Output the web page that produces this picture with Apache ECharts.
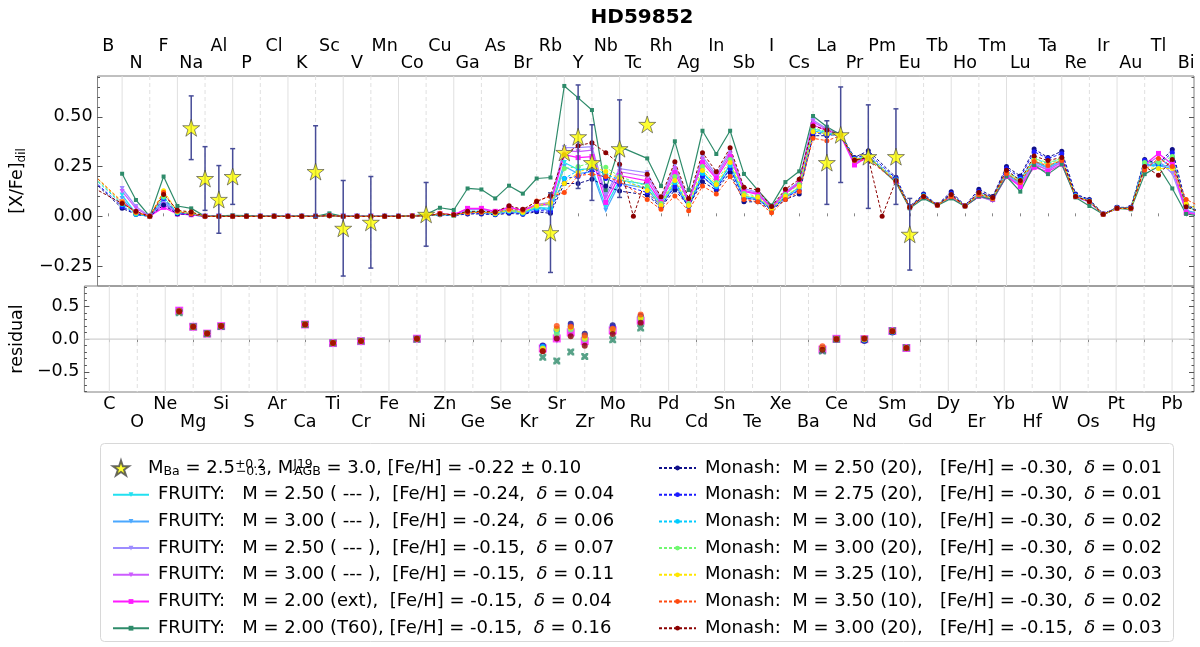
<!DOCTYPE html>
<html>
<head>
<meta charset="utf-8">
<title>HD59852</title>
<script src="https://cdn.jsdelivr.net/npm/echarts@6/dist/echarts.min.js"></script>
<style>
html, body { margin: 0; padding: 0; background: #fff; }
#chart { width: 1200px; height: 647px; }
</style>
</head>
<body>
<div id="chart"></div>
<script>
// element symbols, index = Z - 1
var SYMBOLS = ['H','He','Li','Be','B','C','N','O','F','Ne','Na','Mg','Al','Si','P','S','Cl','Ar','K','Ca',
  'Sc','Ti','V','Cr','Mn','Fe','Co','Ni','Cu','Zn','Ga','Ge','As','Se','Br','Kr','Rb','Sr','Y','Zr',
  'Nb','Mo','Tc','Ru','Rh','Pd','Ag','Cd','In','Sn','Sb','Te','I','Xe','Cs','Ba','La','Ce','Pr','Nd',
  'Pm','Sm','Eu','Gd','Tb','Dy','Ho','Er','Tm','Yb','Lu','Hf','Ta','W','Re','Os','Ir','Pt','Au','Hg',
  'Tl','Pb','Bi','Po'];

// tick label rows (Z)
var topRowA = [5, 9, 13, 17, 21, 25, 29, 33, 37, 41, 45, 49, 53, 57, 61, 65, 69, 73, 77, 81];
var topRowB = [7, 11, 15, 19, 23, 27, 31, 35, 39, 43, 47, 51, 55, 59, 63, 67, 71, 75, 79, 83];
var botRowA = [6, 10, 14, 18, 22, 26, 30, 34, 38, 42, 46, 50, 54, 58, 62, 66, 70, 74, 78, 82];
var botRowB = [8, 12, 16, 20, 24, 28, 32, 36, 40, 44, 48, 52, 56, 60, 64, 68, 72, 76, 80];

// model abundances, Z = 4 .. 84
var modelZ = [4, 5, 6, 7, 8, 9, 10, 11, 12, 13,
  14, 15, 16, 17, 18, 19, 20, 21, 22, 23,
  24, 25, 26, 27, 28, 29, 30, 31, 32, 33,
  34, 35, 36, 37, 38, 39, 40, 41, 42, 43,
  44, 45, 46, 47, 48, 49, 50, 51, 52, 53,
  54, 55, 56, 57, 58, 59, 60, 61, 62, 63,
  64, 65, 66, 67, 68, 69, 70, 71, 72, 73,
  74, 75, 76, 77, 78, 79, 80, 81, 82, 83, 84];

var fruity250m24 = [null, null, 0.107, 0.015, 0, 0.08, 0.015, 0.008, 0, 0,
  0, 0, 0, 0, 0, 0, 0, 0.004, 0, 0,
  0, 0, 0, 0.002, 0.003, 0.01, 0.006, 0.025, 0.025, 0.015,
  0.035, 0.02, 0.045, 0.04, 0.27, 0.235, 0.24, 0.05, 0.183, null,
  0.16, 0.06, 0.18, 0.05, 0.22, 0.15, 0.26, 0.1, 0.09, 0.04,
  0.1, 0.145, 0.44, 0.42, 0.41, 0.275, 0.3, null, 0.175, 0.045,
  0.1, 0.057, 0.1, 0.052, 0.105, 0.085, 0.215, 0.17, 0.28, 0.245,
  0.285, 0.1, 0.075, 0.01, 0.04, 0.04, 0.26, 0.26, 0.25, 0.03, 0.01];

var fruity300m24 = [null, null, 0.09, 0.01, 0, 0.07, 0.012, 0.007, 0, 0,
  0, 0, 0, 0, 0, 0, 0, 0.004, 0, 0,
  0, 0, 0, 0.002, 0.003, 0.01, 0.006, 0.02, 0.02, 0.012,
  0.03, 0.015, 0.04, 0.03, 0.25, 0.215, 0.225, 0.03, 0.166, null,
  0.14, 0.05, 0.16, 0.045, 0.2, 0.14, 0.24, 0.09, 0.085, 0.038,
  0.095, 0.135, 0.43, 0.415, 0.405, 0.27, 0.3, null, 0.175, 0.045,
  0.1, 0.057, 0.1, 0.052, 0.102, 0.085, 0.21, 0.165, 0.275, 0.24,
  0.28, 0.1, 0.075, 0.01, 0.04, 0.04, 0.255, 0.255, 0.24, 0.03, 0.01];

var fruity250m15 = [null, null, 0.14, 0.05, 0, 0.075, 0.02, 0.012, 0, 0,
  0, 0, 0, 0, 0, 0, 0, 0.005, 0, 0,
  0, 0, 0, 0.002, 0.003, 0.012, 0.008, 0.035, 0.035, 0.022,
  0.045, 0.03, 0.06, 0.07, 0.345, 0.345, 0.35, 0.11, 0.24, null,
  0.219, 0.09, 0.258, 0.08, 0.3, 0.21, 0.33, 0.14, 0.12, 0.045,
  0.125, 0.175, 0.484, 0.44, 0.415, 0.27, 0.3, null, 0.175, 0.045,
  0.1, 0.057, 0.098, 0.052, 0.1, 0.078, 0.205, 0.16, 0.268, 0.23,
  0.275, 0.098, 0.072, 0.01, 0.04, 0.04, 0.25, 0.28, 0.215, 0.025, 0.008];

var fruity300m15 = [null, null, 0.125, 0.04, 0, 0.06, 0.018, 0.01, 0, 0,
  0, 0, 0, 0, 0, 0, 0, 0.005, 0, 0,
  0, 0, 0, 0.002, 0.003, 0.012, 0.008, 0.038, 0.037, 0.023,
  0.045, 0.03, 0.055, 0.065, 0.33, 0.325, 0.333, 0.095, 0.224, null,
  0.2, 0.08, 0.24, 0.075, 0.285, 0.2, 0.315, 0.13, 0.115, 0.045,
  0.12, 0.17, 0.475, 0.435, 0.41, 0.265, 0.3, null, 0.175, 0.045,
  0.1, 0.057, 0.098, 0.052, 0.1, 0.08, 0.2, 0.155, 0.258, 0.235,
  0.27, 0.098, 0.072, 0.01, 0.04, 0.04, 0.255, 0.3, 0.24, 0.025, 0.008];

var fruity200ext = [null, null, 0.075, 0.02, 0, 0.045, 0.012, 0.008, 0, 0,
  0, 0, 0, 0, 0, 0, 0, 0.004, 0, 0,
  0, 0, 0, 0.002, 0.003, 0.012, 0.008, 0.04, 0.04, 0.025,
  0.045, 0.03, 0.055, 0.06, 0.31, 0.295, 0.3, 0.07, 0.205, null,
  0.178, 0.07, 0.22, 0.07, 0.27, 0.19, 0.3, 0.125, 0.11, 0.042,
  0.115, 0.165, 0.46, 0.43, 0.405, 0.258, 0.3, null, 0.175, 0.045,
  0.1, 0.057, 0.1, 0.052, 0.1, 0.085, 0.2, 0.15, 0.246, 0.225,
  0.262, 0.1, 0.075, 0.01, 0.04, 0.04, 0.26, 0.316, 0.262, 0.018, 0.005];

var fruity200t60 = [null, null, 0.214, 0.082, 0, 0.2, 0.052, 0.04, 0, 0.002,
  0.005, 0.004, 0, 0.003, 0, 0.002, 0, 0.015, 0, 0,
  0, 0, 0, 0.002, 0.01, 0.043, 0.032, 0.14, 0.135, 0.09,
  0.154, 0.114, 0.19, 0.195, 0.655, 0.595, 0.534, 0.132, 0.35, null,
  0.291, 0.152, 0.377, 0.132, 0.43, 0.313, 0.43, 0.213, 0.132, 0.055,
  0.172, 0.226, 0.504, 0.45, 0.41, 0.28, 0.3, null, 0.17, 0.04,
  0.09, 0.055, 0.09, 0.05, 0.1, 0.085, 0.2, 0.124, 0.258, 0.212,
  0.261, 0.095, 0.052, 0.01, 0.04, 0.035, 0.212, 0.25, 0.14, 0.012, 0.0];

var monash250 = [0.17, null, 0.04, 0.01, 0, 0.057, 0.012, 0.01, 0, 0,
  0, 0, 0, 0, 0, 0, 0, 0.003, 0, 0,
  0, 0, 0, 0.002, 0.002, 0.008, 0.004, 0.012, 0.012, 0.008,
  0.015, 0.01, 0.023, 0.015, 0.165, 0.165, 0.186, 0.152, 0.127, null,
  0.107, 0.045, 0.132, 0.052, 0.174, 0.132, 0.22, 0.073, 0.073, 0.032,
  0.085, 0.112, 0.405, 0.405, 0.415, 0.295, 0.33, null, 0.196, 0.05,
  0.112, 0.058, 0.124, 0.054, 0.136, 0.1, 0.25, 0.203, 0.338, 0.296,
  0.327, 0.112, 0.085, 0.012, 0.045, 0.045, 0.286, 0.265, 0.336, 0.06, 0.02];

var monash275 = [0.175, null, 0.05, 0.01, 0, 0.09, 0.015, 0.012, 0, 0,
  0, 0, 0, 0, 0, 0, 0, 0.003, 0, 0,
  0, 0, 0, 0.002, 0.002, 0.01, 0.005, 0.015, 0.015, 0.01,
  0.02, 0.012, 0.03, 0.025, 0.19, 0.2, 0.233, 0.19, 0.16, null,
  0.12, 0.05, 0.15, 0.05, 0.2, 0.14, 0.24, 0.09, 0.085, 0.035,
  0.095, 0.13, 0.42, 0.41, 0.41, 0.29, 0.315, null, 0.19, 0.047,
  0.108, 0.057, 0.115, 0.053, 0.125, 0.095, 0.24, 0.195, 0.325, 0.29,
  0.315, 0.108, 0.08, 0.011, 0.043, 0.043, 0.28, 0.26, 0.32, 0.055, 0.02];

var monash300a = [0.19, null, 0.06, 0.01, 0, 0.095, 0.018, 0.015, 0, 0,
  0, 0, 0, 0, 0, 0, 0, 0.003, 0, 0,
  0, 0, 0, 0.002, 0.002, 0.01, 0.005, 0.018, 0.02, 0.012,
  0.025, 0.015, 0.04, 0.04, 0.19, 0.23, 0.245, 0.21, 0.185, null,
  0.14, 0.055, 0.17, 0.055, 0.215, 0.15, 0.255, 0.1, 0.09, 0.037,
  0.1, 0.145, 0.43, 0.415, 0.41, 0.288, 0.305, null, 0.185, 0.045,
  0.104, 0.057, 0.108, 0.052, 0.115, 0.092, 0.225, 0.185, 0.29, 0.265,
  0.29, 0.104, 0.077, 0.01, 0.042, 0.042, 0.265, 0.245, 0.29, 0.05, 0.02];

var monash300b = [0.195, null, 0.065, 0.015, 0, 0.1, 0.02, 0.015, 0, 0,
  0, 0, 0, 0, 0, 0, 0, 0.003, 0, 0,
  0, 0, 0, 0.002, 0.002, 0.01, 0.006, 0.02, 0.022, 0.015,
  0.03, 0.02, 0.05, 0.06, 0.24, 0.25, 0.27, 0.246, 0.2, null,
  0.15, 0.065, 0.2, 0.065, 0.25, 0.17, 0.285, 0.115, 0.1, 0.04,
  0.11, 0.16, 0.445, 0.425, 0.41, 0.285, 0.3, null, 0.18, 0.045,
  0.102, 0.057, 0.105, 0.052, 0.115, 0.092, 0.222, 0.18, 0.29, 0.27,
  0.29, 0.102, 0.076, 0.01, 0.041, 0.041, 0.27, 0.27, 0.3, 0.05, 0.02];

var monash325 = [0.205, null, 0.075, 0.02, 0, 0.128, 0.025, 0.02, 0, 0,
  0, 0, 0, 0, 0, 0, 0, 0.003, 0, 0,
  0, 0, 0, 0.002, 0.002, 0.012, 0.007, 0.02, 0.022, 0.015,
  0.03, 0.02, 0.055, 0.07, 0.165, 0.22, 0.25, 0.225, 0.19, null,
  0.13, 0.055, 0.18, 0.055, 0.23, 0.16, 0.27, 0.105, 0.095, 0.038,
  0.1, 0.15, 0.425, 0.415, 0.41, 0.285, 0.3, null, 0.18, 0.045,
  0.1, 0.057, 0.102, 0.052, 0.11, 0.09, 0.22, 0.175, 0.282, 0.26,
  0.285, 0.1, 0.075, 0.01, 0.04, 0.04, 0.245, 0.24, 0.24, 0.065, 0.03];

var monash350 = [0.205, null, 0.07, 0.02, 0, 0.12, 0.025, 0.012, 0, 0,
  0, 0, 0, 0, 0, 0, 0, 0.003, 0, 0,
  0, 0, 0, 0.002, 0.002, 0.015, 0.008, 0.018, 0.02, 0.02,
  0.035, 0.03, 0.077, 0.1, 0.12, 0.205, 0.212, 0.2, 0.175, null,
  0.085, 0.035, 0.102, 0.028, 0.152, 0.112, 0.2, 0.085, 0.073, 0.018,
  0.085, 0.125, 0.392, 0.38, 0.405, 0.28, 0.285, null, 0.175, 0.045,
  0.1, 0.056, 0.1, 0.052, 0.11, 0.09, 0.215, 0.17, 0.275, 0.255,
  0.28, 0.1, 0.075, 0.01, 0.04, 0.04, 0.233, 0.291, 0.25, 0.085, 0.05];

var monash300m15 = [0.14, null, 0.065, 0.025, 0, 0.11, 0.03, 0.022, 0, 0,
  0, 0, 0, 0, 0, 0, 0, 0.004, 0, 0,
  0, 0, 0, 0.002, 0.003, 0.012, 0.008, 0.025, 0.025, 0.022,
  0.053, 0.035, 0.074, 0.105, 0.31, 0.355, 0.37, 0.32, 0.262, 0.0,
  0.212, 0.099, 0.274, 0.09, 0.32, 0.224, 0.345, 0.146, 0.132, 0.049,
  0.136, 0.186, 0.454, 0.434, 0.41, 0.283, 0.295, 0.0, 0.18, 0.045,
  0.1, 0.057, 0.11, 0.052, 0.12, 0.095, 0.232, 0.18, 0.303, 0.28,
  0.296, 0.1, 0.075, 0.01, 0.041, 0.041, 0.25, 0.207, 0.286, 0.048, 0.02];

// observed abundances of HD59852
var obsZ   = [11, 12, 13, 14, 20, 22, 24, 28, 37, 38, 39, 40, 42, 44, 57, 58, 60, 62, 63];
var obsVal = [0.445, 0.19, 0.085, 0.2, 0.225, -0.06, -0.03, 0.01, -0.082, 0.321, 0.40, 0.27, 0.34, 0.462, 0.27, 0.41, 0.30, 0.30, -0.09];
var obsErr = [0.16, 0.16, 0.17, 0.14, 0.23, 0.24, 0.23, 0.16, 0.2, null, 0.26, 0.19, 0.245, null, 0.21, 0.24, 0.26, 0.24, 0.18];

var FONT = 'DejaVu Sans';
var XMIN = 4.22, XMAX = 83.57;
var OBS_NAME = 'obs';

var models = [
  {name: 'FRUITY:   M = 2.50 ( --- ),  [Fe/H] = -0.24,  δ = 0.04', vals: fruity250m24, color: '#22e0f0', symbol: 'triangle', rot: 180, size: 5, dash: false},
  {name: 'FRUITY:   M = 3.00 ( --- ),  [Fe/H] = -0.24,  δ = 0.06', vals: fruity300m24, color: '#4aa8ff', symbol: 'triangle', rot: 180, size: 5, dash: false},
  {name: 'FRUITY:   M = 2.50 ( --- ),  [Fe/H] = -0.15,  δ = 0.07', vals: fruity250m15, color: '#9d8cff', symbol: 'triangle', rot: 180, size: 5, dash: false},
  {name: 'FRUITY:   M = 3.00 ( --- ),  [Fe/H] = -0.15,  δ = 0.11', vals: fruity300m15, color: '#cc5cff', symbol: 'triangle', rot: 180, size: 5, dash: false},
  {name: 'FRUITY:   M = 2.00 (ext),  [Fe/H] = -0.15,  δ = 0.04', vals: fruity200ext, color: '#ff1aff', symbol: 'rect', rot: 0, size: 5, dash: false},
  {name: 'FRUITY:   M = 2.00 (T60), [Fe/H] = -0.15,  δ = 0.16', vals: fruity200t60, color: '#2e8b6a', symbol: 'rect', rot: 0, size: 4, dash: false},
  {name: 'Monash:  M = 2.50 (20),   [Fe/H] = -0.30,  δ = 0.01', vals: monash250, color: '#10108a', symbol: 'circle', rot: 0, size: 5, dash: true},
  {name: 'Monash:  M = 2.75 (20),   [Fe/H] = -0.30,  δ = 0.01', vals: monash275, color: '#1a1aff', symbol: 'circle', rot: 0, size: 5, dash: true},
  {name: 'Monash:  M = 3.00 (10),   [Fe/H] = -0.30,  δ = 0.02', vals: monash300a, color: '#00ccff', symbol: 'circle', rot: 0, size: 5, dash: true},
  {name: 'Monash:  M = 3.00 (20),   [Fe/H] = -0.30,  δ = 0.02', vals: monash300b, color: '#70f870', symbol: 'circle', rot: 0, size: 5, dash: true},
  {name: 'Monash:  M = 3.25 (10),   [Fe/H] = -0.30,  δ = 0.03', vals: monash325, color: '#ffe600', symbol: 'circle', rot: 0, size: 5, dash: true},
  {name: 'Monash:  M = 3.50 (10),   [Fe/H] = -0.30,  δ = 0.02', vals: monash350, color: '#ff4a10', symbol: 'circle', rot: 0, size: 5, dash: true},
  {name: 'Monash:  M = 3.00 (20),   [Fe/H] = -0.15,  δ = 0.03', vals: monash300m15, color: '#8b0000', symbol: 'circle', rot: 0, size: 5, dash: true}
];

var STAR = 'path://M50,0 L61.8,35.1 L98.9,35.1 L69.1,56.8 L80.9,91.9 L50,70.2 L19.1,91.9 L30.9,56.8 L1.1,35.1 L38.2,35.1 Z';
var CROSS = 'path://M0,0 L3,0 L5,2 L7,0 L10,0 L10,3 L8,5 L10,7 L10,10 L7,10 L5,8 L3,10 L0,10 L0,7 L2,5 L0,3 Z';

function pairs(vals) {
  var out = [];
  for (var i = 0; i < modelZ.length; i++) {
    if (vals[i] != null) out.push([modelZ[i], vals[i]]);
  }
  return out;
}

function residuals(vals) {
  var out = [];
  for (var k = 0; k < obsZ.length; k++) {
    var v = vals[modelZ.indexOf(obsZ[k])];
    if (v != null) out.push([obsZ[k], obsVal[k] - v]);
  }
  return out;
}

function minus(s) { return String(s).replace('-', '\u2212'); }

function ticksBetween(lo, hi, step) {
  var out = [];
  for (var v = Math.ceil(lo / step) * step; v <= hi + 1e-9; v += step) out.push(+v.toFixed(4));
  return out;
}

var chart = echarts.init(document.getElementById('chart'));

var labelStyle = {fontFamily: FONT, fontSize: 17.5, color: '#000'};
function symFmt(v) { return SYMBOLS[Math.round(v) - 1]; }

var xAxes = [
  {gridIndex: 0, type: 'value', position: 'top', min: XMIN, max: XMAX,
    axisLine: {show: false}, splitLine: {show: false},
    axisTick: {show: true, inside: false, length: 3, customValues: topRowA.concat(topRowB), lineStyle: {color: '#888'}},
    axisLabel: Object.assign({customValues: topRowA, margin: 21, formatter: symFmt}, labelStyle)},
  {gridIndex: 0, type: 'value', position: 'top', min: XMIN, max: XMAX,
    axisLine: {show: false}, splitLine: {show: false}, axisTick: {show: false},
    axisLabel: Object.assign({customValues: topRowB, margin: 4, formatter: symFmt}, labelStyle)},
  {gridIndex: 1, type: 'value', position: 'bottom', min: XMIN, max: XMAX,
    axisLine: {show: false}, splitLine: {show: false},
    axisTick: {show: true, inside: false, length: 3, customValues: botRowA.concat(botRowB), lineStyle: {color: '#888'}},
    axisLabel: Object.assign({customValues: botRowA, margin: 3, formatter: symFmt}, labelStyle)},
  {gridIndex: 1, type: 'value', position: 'bottom', min: XMIN, max: XMAX,
    axisLine: {show: false}, splitLine: {show: false}, axisTick: {show: false},
    axisLabel: Object.assign({customValues: botRowB, margin: 21, formatter: symFmt}, labelStyle)}
];

var TOP_MIN = -0.35, TOP_MAX = 0.705, RES_MIN = -0.81, RES_MAX = 0.815;
var topTicks = [-0.25, 0, 0.25, 0.5];
var resTicks = [-0.5, 0, 0.5];

function yBase(grid, pos, min, max) {
  return {gridIndex: grid, type: 'value', position: pos, min: min, max: max,
    axisLine: {show: false}, splitLine: {show: false}, axisLabel: {show: false}};
}

var y0 = yBase(0, 'left', TOP_MIN, TOP_MAX);
y0.axisTick = {inside: true, length: 5, customValues: topTicks, lineStyle: {color: '#555'}};
y0.axisLabel = Object.assign({show: true, customValues: topTicks, margin: 5,
  formatter: function (v) { return minus(v.toFixed(2)); }}, labelStyle);
y0.name = '{a|[X/Fe]}{b|dil}';
y0.nameLocation = 'middle';
y0.nameRotate = 90;
y0.nameGap = 52;
y0.nameTextStyle = {rich: {a: {fontFamily: FONT, fontSize: 17.5, color: '#000', lineHeight: 22},
  b: {fontFamily: FONT, fontSize: 12, color: '#000', verticalAlign: 'bottom', lineHeight: 12}}};

var y1 = yBase(0, 'left', TOP_MIN, TOP_MAX);
y1.axisTick = {inside: true, length: 2.5, customValues: ticksBetween(TOP_MIN, TOP_MAX, 0.05), lineStyle: {color: '#555'}};
var y2 = yBase(0, 'right', TOP_MIN, TOP_MAX);
y2.axisTick = {inside: true, length: 5, customValues: topTicks, lineStyle: {color: '#555'}};
var y3 = yBase(0, 'right', TOP_MIN, TOP_MAX);
y3.axisTick = {inside: true, length: 2.5, customValues: ticksBetween(TOP_MIN, TOP_MAX, 0.05), lineStyle: {color: '#555'}};

var y4 = yBase(1, 'left', RES_MIN, RES_MAX);
y4.axisTick = {inside: true, length: 5, customValues: resTicks, lineStyle: {color: '#555'}};
y4.axisLabel = Object.assign({show: true, customValues: resTicks, margin: 5,
  formatter: function (v) { return minus(v.toFixed(1)); }}, labelStyle);
y4.name = 'residual';
y4.nameLocation = 'middle';
y4.nameRotate = 90;
y4.nameGap = 52;
y4.nameTextStyle = {fontFamily: FONT, fontSize: 17.5, color: '#000'};
var y5 = yBase(1, 'right', RES_MIN, RES_MAX);
y5.axisTick = {inside: true, length: 5, customValues: resTicks, lineStyle: {color: '#555'}};
var y6 = yBase(1, 'left', RES_MIN, RES_MAX);
y6.axisTick = {inside: true, length: 2.5, customValues: ticksBetween(RES_MIN, RES_MAX, 0.1), lineStyle: {color: '#555'}};
var y7 = yBase(1, 'right', RES_MIN, RES_MAX);
y7.axisTick = {inside: true, length: 2.5, customValues: ticksBetween(RES_MIN, RES_MAX, 0.1), lineStyle: {color: '#555'}};

function vLines(grid, zs, dashed) {
  return {
    type: 'custom', xAxisIndex: grid === 0 ? 0 : 2, yAxisIndex: grid === 0 ? 0 : 4, z: 1, silent: true,
    data: zs.map(function (z) { return [z, 0]; }),
    renderItem: function (params, api) {
      var cs = params.coordSys;
      var p = api.coord([api.value(0), 0]);
      return {type: 'line', shape: {x1: p[0], y1: cs.y, x2: p[0], y2: cs.y + cs.height},
        style: {stroke: '#e0e0e0', lineWidth: 1, lineDash: dashed ? [4, 3] : null}};
    }
  };
}

var series = [
  vLines(0, botRowA, false), vLines(0, botRowB, true),
  vLines(1, botRowA, false), vLines(1, botRowB, true),
  {
    type: 'custom', xAxisIndex: 2, yAxisIndex: 4, z: 1, silent: true, data: [[XMIN, 0]],
    renderItem: function (params, api) {
      var cs = params.coordSys;
      var p = api.coord([XMIN, 0]);
      return {type: 'line', shape: {x1: cs.x, y1: p[1], x2: cs.x + cs.width, y2: p[1]},
        style: {stroke: '#d0d0d0', lineWidth: 1.2}};
    }
  }
];

models.forEach(function (m) {
  series.push({
    name: m.name, type: 'line', xAxisIndex: 0, yAxisIndex: 0, z: 3,
    data: pairs(m.vals), connectNulls: true,
    symbol: m.symbol, symbolRotate: m.rot, symbolSize: m.size, showAllSymbol: true,
    itemStyle: {color: m.color},
    lineStyle: {color: m.color, width: m.dash ? 1 : 1.2, type: m.dash ? [3, 2] : 'solid'},
    emphasis: {disabled: true}, animation: false
  });
});

var errData = [];
for (var k = 0; k < obsZ.length; k++) {
  if (obsErr[k] != null) errData.push([obsZ[k], obsVal[k], obsErr[k]]);
}
series.push({
  type: 'custom', xAxisIndex: 0, yAxisIndex: 0, z: 4, silent: true, data: errData,
  renderItem: function (params, api) {
    var x = api.value(0), y = api.value(1), e = api.value(2);
    var a = api.coord([x, y + e]), b = api.coord([x, y - e]);
    var st = {stroke: '#474c98', lineWidth: 1.5};
    return {type: 'group', children: [
      {type: 'line', shape: {x1: a[0], y1: a[1], x2: b[0], y2: b[1]}, style: st},
      {type: 'line', shape: {x1: a[0] - 2.5, y1: a[1], x2: a[0] + 2.5, y2: a[1]}, style: st},
      {type: 'line', shape: {x1: b[0] - 2.5, y1: b[1], x2: b[0] + 2.5, y2: b[1]}, style: st}
    ]};
  }
});
series.push({
  name: OBS_NAME, type: 'scatter', xAxisIndex: 0, yAxisIndex: 0, z: 5,
  data: obsZ.map(function (z, i) { return [z, obsVal[i]]; }),
  symbol: STAR, symbolSize: 17,
  itemStyle: {color: '#ffff00', borderColor: '#444', borderWidth: 0.8},
  emphasis: {disabled: true}
});

models.forEach(function (m) {
  var sym = m.symbol, size = 6, rot = m.rot;
  if (m.color === '#2e8b6a') { sym = CROSS; size = 7; rot = 0; }
  if (m.color === '#ff1aff') { size = 8; }
  series.push({
    name: m.name + ' (res)', type: 'scatter', xAxisIndex: 2, yAxisIndex: 4, z: 3,
    data: residuals(m.vals), symbol: sym, symbolRotate: rot, symbolSize: size,
    itemStyle: {color: m.color}, emphasis: {disabled: true}
  });
});

var legendText = {fontFamily: FONT, fontSize: 18, color: '#000', lineHeight: 20, padding: [0, 0, 0, 4],
  rich: {
    t: {fontFamily: FONT, fontSize: 18, color: '#000', lineHeight: 20},
    i: {fontFamily: FONT, fontSize: 18, color: '#000', fontStyle: 'italic', lineHeight: 20},
    sp: {fontFamily: FONT, fontSize: 12.5, color: '#000', verticalAlign: 'top', lineHeight: 11, width: 1},
    s: {fontFamily: FONT, fontSize: 12.5, color: '#000', verticalAlign: 'bottom', lineHeight: 11}
  }};

function legendFmt(name) {
  if (name === OBS_NAME) {
    return '{t|M}{s|Ba}{t| = 2.5}{sp|+0.2}{s|\u22120.3}{t|, M}{sp|J19}{s|AGB}{t| = 3.0, [Fe/H] = -0.22 \u00b1 0.10}';
  }
  return '{t|' + name.replace('δ', '}{i|δ}{t|') + '}';
}

var ROW = 26.7, LEG_TOP = 453;

var option = {
  backgroundColor: '#fff',
  animation: false,
  textStyle: {fontFamily: FONT},
  title: {text: 'HD59852', left: 637, top: 3, textAlign: 'center',
    textStyle: {fontFamily: FONT, fontSize: 20, fontWeight: 'bold', color: '#000'}},
  grid: [
    {left: 80, top: 76, width: 1114, height: 210, show: true, borderColor: '#808080', borderWidth: 1, backgroundColor: 'transparent'},
    {left: 80, top: 286, width: 1114, height: 106, show: true, borderColor: '#808080', borderWidth: 1, backgroundColor: 'transparent'}
  ],
  xAxis: xAxes,
  yAxis: [y0, y1, y2, y3, y4, y5, y6, y7],
  legend: [
    {data: [OBS_NAME],
      orient: 'vertical', left: 107, top: LEG_TOP, itemWidth: 36, itemHeight: 15, itemGap: 6.7,
      formatter: legendFmt, textStyle: legendText, selectedMode: false},
    {data: models.slice(0, 6).map(function (m) { return m.name; }),
      orient: 'vertical', left: 107, top: LEG_TOP + ROW, itemWidth: 36, itemHeight: 6, itemGap: 6.7,
      formatter: legendFmt, textStyle: legendText, selectedMode: false},
    {data: models.slice(6).map(function (m) { return m.name; }),
      orient: 'vertical', left: 653, top: LEG_TOP, itemWidth: 37, itemHeight: 6, itemGap: 6.7,
      formatter: legendFmt, textStyle: legendText, selectedMode: false}
  ],
  graphic: [
    {type: 'rect', left: 100, top: 443, z: -1, silent: true,
      shape: {width: 1073, height: 198, r: 4},
      style: {fill: 'rgba(255,255,255,0.8)', stroke: '#d8d8d8', lineWidth: 1}}
  ],
  series: series
};

chart.setOption(option);
</script>
</body>
</html>
